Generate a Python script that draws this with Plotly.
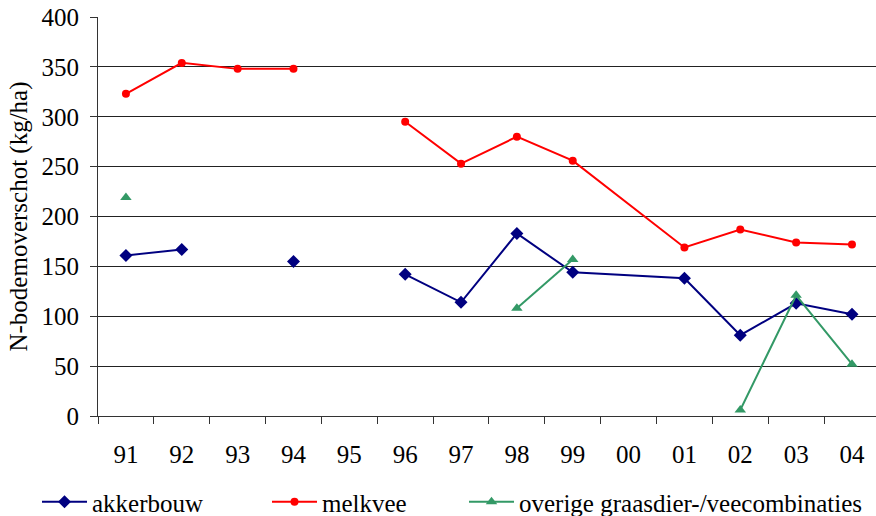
import plotly.graph_objects as go

# Jaren (categorie-as)
jaren = ["91", "92", "93", "94", "95", "96", "97", "98", "99", "00", "01", "02", "03", "04"]

# N-bodemoverschot (kg/ha) per bedrijfstype; None = geen waarneming
akkerbouw = [161, 167, None, 155, None, 142, 114, 183, 144, None, 138, 81, 113, 102]
melkvee = [323, 354, 348, 348, None, 295, 253, 280, 256, None, 169, 187, 174, 172]
overige = [219, None, None, None, None, None, None, 108, 157, None, None, 6, 121, 52]

y_ticks = [0, 50, 100, 150, 200, 250, 300, 350, 400]

FONT = "Liberation Serif"
TXT = dict(family=FONT, size=25, color="#000")

# Voor 00 is er voor geen enkel type een waarde; die kolom wordt overgeslagen
# zodat de lijn van 99 direct doorloopt naar 01.
keep = [i for i, j in enumerate(jaren) if j != "00"]


def subset(vals):
    return [jaren[i] for i in keep], [vals[i] for i in keep]


series = [
    ("akkerbouw", akkerbouw, "#000080", "diamond", 10, "legend"),
    ("melkvee", melkvee, "#FF0000", "circle", 8, "legend2"),
    ("overige graasdier-/veecombinaties", overige, "#339966", "triangle-up", 10, "legend3"),
]

fig = go.Figure()
for name, vals, color, symbol, size, leg in series:
    xs, ys = subset(vals)
    fig.add_trace(go.Scatter(
        x=xs, y=ys, name=name, mode="lines+markers",
        connectgaps=False, showlegend=True,
        line=dict(color=color, width=2),
        marker=dict(symbol=symbol, size=size, color=color),
        legend=leg,
    ))

W, H = 876, 516
L, R = 98, 0
plot_w = W - L - R

legend_common = dict(
    orientation="h", xref="container", yref="container",
    yanchor="middle", y=(H - 502) / H, xanchor="left",
    font=TXT, bgcolor="rgba(0,0,0,0)", itemwidth=45,
)

fig.update_layout(
    width=W, height=H, showlegend=True,
    margin=dict(l=L, r=R, t=17, b=100, autoexpand=False),
    paper_bgcolor="white", plot_bgcolor="white",
    font=TXT,
    xaxis=dict(
        type="category", categoryorder="array", categoryarray=jaren,
        range=[-0.5, -0.5 + plot_w / 55.85],
        showgrid=False, showline=True, linecolor="#333", linewidth=1,
        ticks="outside", tickson="boundaries", ticklen=7, tickcolor="#333",
        ticklabelstandoff=16, tickfont=TXT,
    ),
    yaxis=dict(
        range=[0, 400], tickvals=y_ticks,
        showgrid=True, gridcolor="#222", gridwidth=1,
        showline=True, linecolor="#333", linewidth=1,
        ticks="outside", ticklen=7, tickcolor="#333",
        ticklabelstandoff=6,
        zeroline=False, tickfont=TXT,
        title=dict(text="N-bodemoverschot (kg/ha)", standoff=6, font=TXT),
    ),
    legend=dict(x=37 / W, **legend_common),
    legend2=dict(x=267 / W, **legend_common),
    legend3=dict(x=464 / W, **legend_common),
)

fig.write_html("out.html")
